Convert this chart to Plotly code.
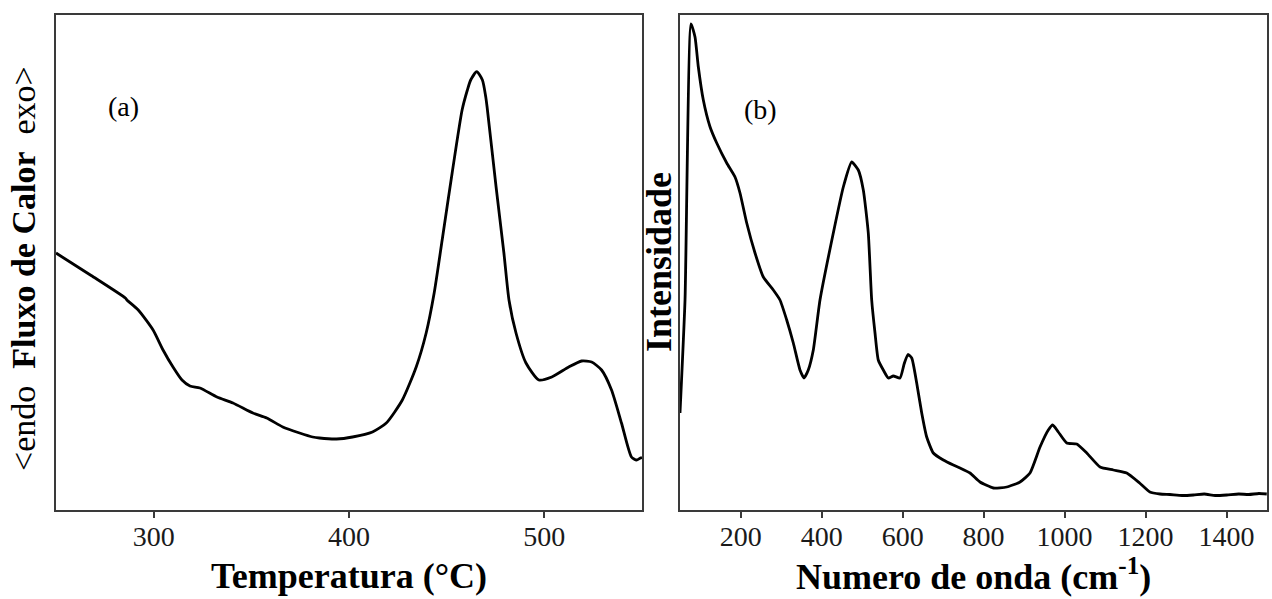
import plotly.graph_objects as go

# DSC curve (a): temperature in °C, heat flow in arbitrary units (exo up)
dsc_temp = [250.0, 268.0, 285.5, 286.3, 292.1, 299.7, 304.8, 309.9, 314.5, 318.6,
            323.7, 332.4, 340.6, 350.8, 357.9, 366.1, 374.7, 381.4, 384.9, 393.6,
            401.8, 412.0, 419.1, 427.3, 434.4, 439.5, 443.6, 447.7, 452.8, 457.9,
            460.6, 462.3, 465.4, 468.3, 470.0, 470.7, 475.3, 479.3, 481.9, 485.5,
            490.6, 497.2, 503.8, 512.5, 519.1, 524.2, 529.3, 534.4, 539.5, 544.6,
            547.2, 549.2, 550.0]
dsc_flow = [25.65, 23.40, 21.15, 20.95, 19.95, 17.95, 15.95, 14.25, 12.95, 12.35,
            12.15, 11.25, 10.65, 9.65, 9.15, 8.25, 7.65, 7.25, 7.15, 7.05,
            7.25, 7.75, 8.65, 10.95, 14.25, 17.65, 21.65, 26.95, 33.65, 39.95,
            41.95, 42.95, 43.78, 42.95, 41.28, 40.25, 32.25, 25.65, 20.95, 17.65,
            14.65, 12.95, 13.25, 14.25, 14.85, 14.75, 13.95, 11.95, 8.65, 5.25,
            4.95, 5.15, 5.20]

# Raman spectrum (b): wavenumber in cm-1, intensity in arbitrary units
raman_wn = [50.0, 62.4, 77.2, 87.1, 95.2, 107.6, 124.1, 140.7, 165.4, 185.9,
            198.2, 214.8, 235.3, 255.8, 280.5, 297.0, 313.6, 329.9, 346.4, 356.3,
            366.9, 379.3, 395.8, 428.7, 453.4, 474.1, 490.4, 502.8, 515.1, 523.5,
            531.7, 539.8, 552.2, 564.6, 576.9, 593.5, 604.0, 613.0, 622.4, 634.7,
            647.1, 659.4, 675.7, 700.4, 725.1, 741.7, 766.4, 791.1, 824.0, 857.1,
            889.9, 914.6, 939.3, 959.8, 970.7, 984.5, 1005.3, 1030.0, 1054.7, 1087.6,
            1120.4, 1153.5, 1185.3, 1210.7, 1235.8, 1260.0, 1290.0, 1318.1, 1345.0,
            1372.0, 1400.6, 1430.0, 1455.0, 1480.0, 1499.4]
raman_int = [9.65, 20.95, 48.55, 47.25, 44.28, 40.95, 38.28, 36.65, 34.65, 33.25,
             31.65, 28.65, 25.65, 23.25, 21.95, 20.95, 18.95, 16.65, 13.95, 13.15,
             13.95, 15.95, 20.95, 27.65, 32.25, 34.75, 33.95, 31.95, 27.65, 20.95,
             17.65, 14.95, 13.95, 13.15, 13.35, 13.15, 14.60, 15.50, 15.15, 12.65,
             9.65, 7.25, 5.65, 4.95, 4.45, 4.15, 3.65, 2.75, 2.15, 2.25,
             2.75, 3.65, 6.25, 7.95, 8.45, 7.75, 6.65, 6.55, 5.65, 4.25,
             3.95, 3.65, 2.65, 1.75, 1.55, 1.50, 1.40, 1.45, 1.55,
             1.40, 1.45, 1.55, 1.50, 1.60, 1.55]

dsc_ticks = [300, 400, 500]
raman_ticks = [200, 400, 600, 800, 1000, 1200, 1400]

SERIF = "Liberation Serif"
FRAME = "#3a3a3a"
W, H = 1272, 599

fig = go.Figure()
fig.add_trace(go.Scatter(x=dsc_temp, y=dsc_flow, mode="lines",
                         line=dict(color="black", width=2.8, shape="spline", smoothing=0.6),
                         xaxis="x", yaxis="y", showlegend=False, hoverinfo="skip"))
fig.add_trace(go.Scatter(x=raman_wn, y=raman_int, mode="lines",
                         line=dict(color="black", width=2.8, shape="spline", smoothing=0.5),
                         xaxis="x2", yaxis="y2", showlegend=False, hoverinfo="skip"))

def px_x(p):
    return p / W

def px_y(p):
    return 1 - p / H

xa_common = dict(showline=True, linecolor=FRAME, linewidth=1.5, mirror=True,
                 ticks="outside", ticklen=7, tickwidth=1.5, tickcolor=FRAME,
                 ticklabelstandoff=-6,
                 showgrid=False, zeroline=False,
                 tickfont=dict(family=SERIF, size=28, color="#1a1a1a"))
ya_common = dict(showline=True, linecolor=FRAME, linewidth=1.5, mirror=True,
                 ticks="", showticklabels=False, showgrid=False, zeroline=False,
                 range=[0, 49.45])

fig.update_layout(
    width=W, height=H,
    margin=dict(l=0, r=0, t=0, b=0),
    paper_bgcolor="white", plot_bgcolor="white",
    xaxis=dict(domain=[px_x(56), px_x(642)], range=[250, 550],
               tickvals=dsc_ticks, anchor="y", **xa_common),
    yaxis=dict(domain=[px_y(509.5), px_y(15)], anchor="x", **ya_common),
    xaxis2=dict(domain=[px_x(680), px_x(1267)], range=[50, 1500],
                tickvals=raman_ticks, anchor="y2", **xa_common),
    yaxis2=dict(domain=[px_y(509.5), px_y(15)], anchor="x2", **ya_common),
)

annots = [
    dict(text="<b>Temperatura (°C)</b>", x=px_x(349), y=px_y(576), xanchor="center",
         yanchor="middle", font=dict(family=SERIF, size=36, color="black"), textangle=0),
    dict(text="<b>Numero de onda (cm<sup>-1</sup>)</b>", x=px_x(973), y=0,
         xanchor="center", yanchor="bottom",
         font=dict(family=SERIF, size=36, color="black"), textangle=0),
    dict(text="&lt;endo&nbsp; <b>Fluxo de Calor</b> &nbsp;exo&gt;", x=px_x(23),
         y=px_y(269), xanchor="center", yanchor="middle",
         font=dict(family=SERIF, size=34, color="black"), textangle=-90),
    dict(text="<b>Intensidade</b>", x=px_x(659), y=px_y(262), xanchor="center",
         yanchor="middle", font=dict(family=SERIF, size=36, color="black"), textangle=-90),
    dict(text="(a)", x=px_x(123), y=px_y(107), xanchor="center", yanchor="middle",
         font=dict(family=SERIF, size=28, color="black")),
    dict(text="(b)", x=px_x(760), y=px_y(110), xanchor="center", yanchor="middle",
         font=dict(family=SERIF, size=28, color="black")),
]
for a in annots:
    a.update(xref="paper", yref="paper", showarrow=False)
fig.update_layout(annotations=annots)

fig.write_html("out.html")
